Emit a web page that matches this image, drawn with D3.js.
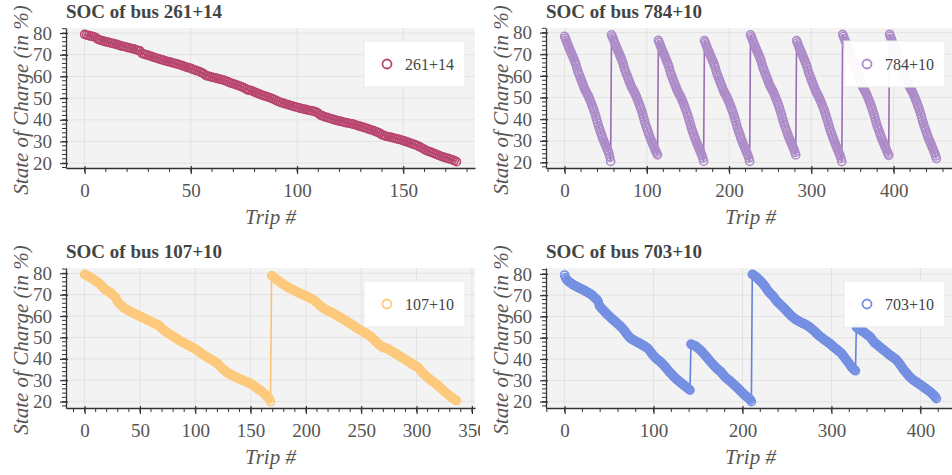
<!DOCTYPE html>
<html><head><meta charset="utf-8">
<script src="https://cdn.jsdelivr.net/npm/d3@7"></script>
<style>body{margin:0;background:#fff}svg{display:block}</style>
</head><body>
<svg id="c" width="952" height="475"></svg>
<script>
// ---------- DATA ----------
const titles = ["SOC of bus 261+14","SOC of bus 784+10","SOC of bus 107+10","SOC of bus 703+10"];
const busLabels = ["261+14","784+10","107+10","703+10"];
const yTicks = [20,30,40,50,60,70,80];
const xTicks261 = [0,50,100,150];
const xTicks784 = [0,100,200,300,400];
const xTicks107 = [0,50,100,150,200,250,300,350];
const xTicks703 = [0,100,200,300,400];

const soc261 = [
79.4,79.1,78.8,78.6,78.4,78.1,77.3,76.9,76.6,76.3,
76.0,75.8,75.5,75.3,75.0,74.8,74.5,74.1,73.9,73.7,
73.4,73.2,72.9,72.7,72.4,72.1,71.8,70.6,70.3,70.0,
69.7,69.4,69.0,68.7,68.4,68.1,67.8,67.5,67.2,66.9,
66.7,66.4,66.1,65.9,65.6,65.3,65.0,64.6,64.3,64.0,
63.7,63.3,62.9,62.6,62.3,61.8,61.3,60.5,60.2,59.9,
59.7,59.4,59.2,58.9,58.7,58.4,58.1,57.7,57.3,56.9,
56.6,56.3,55.9,55.6,55.2,54.8,54.2,53.7,53.6,53.2,
52.8,52.4,52.0,51.6,51.2,50.9,50.6,50.3,49.9,49.5,
49.0,48.5,48.1,47.8,47.5,47.2,46.9,46.6,46.3,46.0,
45.8,45.5,45.2,45.0,44.8,44.5,44.3,44.1,43.9,43.6,
43.0,42.2,41.8,41.4,41.1,40.8,40.5,40.2,39.9,39.6,
39.4,39.2,38.9,38.7,38.5,38.3,38.1,37.8,37.5,37.2,
36.9,36.6,36.3,36.0,35.6,35.3,35.0,34.6,34.2,33.8,
33.1,32.7,32.4,32.2,32.0,31.7,31.5,31.2,31.0,30.7,
30.4,30.1,29.7,29.4,29.0,28.7,28.4,27.9,27.4,26.9,
26.3,25.8,25.4,25.1,24.7,24.3,23.9,23.5,23.1,22.8,
22.5,22.2,21.9,21.6,21.2,20.7];

const soc784_day1 = [78.3,77.4,76.4,75.4,74.4,73.4,72.5,71.6,70.7,69.8,68.9,68.0,67.1,66.1,65.1,63.6,62.3,61.3,60.3,59.3,58.3,57.3,56.3,55.3,54.3,53.5,52.8,52.1,51.4,50.6,49.7,48.8,47.8,46.8,45.8,44.8,43.7,42.5,41.2,39.9,38.5,37.2,36.0,34.9,33.8,32.7,31.6,30.6,29.6,28.7,27.8,26.9,26.0,25.1,24.1,22.5,20.5];
const soc784_day2 = [79.0,78.1,77.2,76.2,75.2,74.2,73.3,72.4,71.5,70.6,69.7,68.8,67.9,66.9,65.9,64.4,63.1,62.1,61.1,60.1,59.1,58.1,57.1,56.1,55.2,54.4,53.7,53.0,52.3,51.5,50.6,49.7,48.7,47.7,46.7,45.7,44.6,43.4,42.1,40.8,39.4,38.1,36.9,35.8,34.7,33.6,32.5,31.5,30.5,29.6,28.7,27.8,26.9,26.0,25.1,24.3,23.5];
const soc784_day3 = [76.4,75.5,74.5,73.5,72.5,71.6,70.7,69.8,68.9,68.0,67.0,66.1,65.1,64.0,62.5,61.2,60.2,59.2,58.2,57.2,56.2,55.2,54.2,53.3,52.5,51.8,51.1,50.4,49.6,48.7,47.8,46.8,45.8,44.8,43.7,42.6,41.4,40.1,38.8,37.5,36.2,35.0,33.9,32.8,31.7,30.7,29.7,28.7,27.8,26.9,26.0,25.1,24.2,23.2,22.0,20.6];
const soc784_day4 = [76.3,75.4,74.4,73.4,72.4,71.5,70.6,69.7,68.8,67.9,67.0,66.1,65.1,64.1,62.6,61.3,60.3,59.3,58.3,57.3,56.3,55.3,54.3,53.3,52.5,51.8,51.1,50.4,49.6,48.7,47.8,46.8,45.8,44.8,43.8,42.7,41.5,40.2,38.9,37.5,36.2,35.0,33.9,32.8,31.7,30.6,29.6,28.6,27.7,26.8,25.9,25.0,24.1,23.2,22.0,20.5];
const soc784_day5 = [79.0,78.1,77.1,76.1,75.1,74.2,73.3,72.4,71.5,70.6,69.7,68.8,67.8,66.8,65.3,64.0,63.0,62.0,61.0,60.0,59.0,58.0,57.0,56.0,55.2,54.5,53.8,53.1,52.3,51.4,50.5,49.5,48.5,47.5,46.5,45.4,44.2,42.9,41.6,40.2,38.9,37.7,36.6,35.5,34.4,33.3,32.3,31.3,30.4,29.5,28.6,27.7,26.8,25.9,24.7,23.5];
const soc784_day6 = [76.3,75.3,74.3,73.3,72.4,71.5,70.6,69.7,68.8,67.9,67.0,66.0,65.0,64.0,62.5,61.2,60.2,59.2,58.2,57.2,56.2,55.2,54.2,53.3,52.5,51.8,51.1,50.3,49.5,48.6,47.7,46.7,45.7,44.7,43.7,42.6,41.4,40.1,38.8,37.5,36.2,35.0,33.9,32.8,31.7,30.7,29.7,28.7,27.7,26.8,25.9,25.0,24.1,23.1,21.9,20.4];
const soc784_day7 = [79.2,78.3,77.3,76.3,75.3,74.4,73.5,72.5,71.6,70.7,69.8,68.9,68.0,67.0,66.0,64.5,63.2,62.2,61.2,60.2,59.2,58.2,57.2,56.2,55.3,54.5,53.8,53.1,52.4,51.6,50.7,49.8,48.8,47.8,46.8,45.8,44.7,43.5,42.2,40.9,39.5,38.2,37.0,35.9,34.8,33.7,32.6,31.6,30.6,29.7,28.8,27.9,27.0,26.1,25.1,24.2,23.3];
const soc784_day8 = [79.2,78.3,77.3,76.3,75.3,74.4,73.5,72.5,71.6,70.7,69.8,68.9,68.0,67.0,66.0,64.5,63.2,62.2,61.2,60.2,59.2,58.2,57.2,56.2,55.3,54.5,53.8,53.1,52.4,51.6,50.7,49.8,48.8,47.8,46.8,45.8,44.7,43.5,42.2,40.9,39.5,38.2,37.0,35.9,34.8,33.7,32.6,31.6,30.6,29.7,28.8,27.9,27.0,26.1,25.1,24.2,23.0,21.8];
const soc784 = [].concat(soc784_day1,soc784_day2,soc784_day3,soc784_day4,soc784_day5,soc784_day6,soc784_day7,soc784_day8);

const soc107_run1 = [
79.5,79.3,79.0,78.7,78.4,78.1,77.9,77.6,77.2,76.8,
76.4,76.0,75.7,75.3,74.8,74.3,73.8,73.3,72.7,72.3,
71.9,71.6,71.3,70.9,70.6,70.1,69.6,69.2,68.7,67.5,
66.6,66.1,65.6,65.1,64.6,64.1,63.7,63.4,63.1,62.8,
62.5,62.2,62.0,61.7,61.4,61.2,60.9,60.7,60.4,60.2,
59.9,59.7,59.4,59.2,58.9,58.7,58.4,58.1,57.9,57.6,
57.4,57.1,56.9,56.6,56.4,56.2,55.9,55.7,55.2,54.6,
54.1,53.7,53.3,52.9,52.5,52.1,51.8,51.5,51.2,50.8,
50.5,50.2,49.9,49.5,49.2,48.9,48.5,48.2,47.9,47.6,
47.4,47.1,46.8,46.6,46.3,46.0,45.7,45.4,45.1,44.9,
44.7,44.3,43.9,43.5,43.2,42.8,42.4,42.0,41.7,41.3,
41.0,40.7,40.4,40.1,39.8,39.5,39.2,38.9,38.7,38.3,
37.8,37.3,36.8,36.3,35.7,35.2,34.8,34.3,33.9,33.5,
33.2,32.9,32.7,32.4,32.2,31.9,31.6,31.4,31.1,30.9,
30.7,30.4,30.2,30.0,29.8,29.5,29.3,29.0,28.8,28.6,
28.5,28.1,27.8,27.4,27.0,26.6,26.3,25.9,25.5,25.2,
24.8,24.4,23.9,23.4,22.9,22.4,21.9,21.3,20.0];
const soc107_run2 = [
78.9,78.5,78.1,77.7,77.3,76.9,76.5,76.2,75.8,75.5,
75.1,74.8,74.4,74.1,73.7,73.4,73.1,72.8,72.6,72.3,
72.1,71.8,71.5,71.3,71.0,70.8,70.5,70.3,70.0,69.8,
69.6,69.5,69.2,68.9,68.6,68.4,68.1,67.8,67.5,67.2,
66.7,66.2,65.7,65.2,64.8,64.4,64.0,63.6,63.3,63.0,
62.7,62.4,62.2,62.0,61.8,61.5,61.2,60.9,60.6,60.3,
60.0,59.7,59.4,59.1,58.8,58.5,58.2,57.8,57.5,57.1,
56.8,56.5,56.2,55.9,55.5,55.2,54.9,54.5,54.1,53.7,
53.5,53.3,53.0,52.7,52.3,52.0,51.7,51.3,51.0,50.6,
50.2,49.7,49.2,48.7,48.2,47.7,47.2,46.8,46.3,45.9,
45.6,45.4,45.2,45.0,44.9,44.7,44.4,44.0,43.7,43.4,
43.1,42.8,42.5,42.2,41.9,41.6,41.2,40.9,40.5,40.2,
39.9,39.6,39.3,39.0,38.6,38.3,38.0,37.6,37.3,36.9,
36.7,36.5,36.1,35.6,35.0,34.4,33.6,33.2,32.7,32.2,
31.8,31.3,30.9,30.5,30.0,29.7,29.3,28.9,28.5,28.1,
27.7,27.2,26.8,26.3,25.8,25.3,24.8,24.4,23.9,23.5,
23.1,22.7,22.3,21.9,21.5,21.2,20.9,20.5];
const soc107 = [].concat(soc107_run1, soc107_run2);

const soc703_run1 = [
79.5,78.3,77.6,77.0,76.6,76.3,76.0,75.7,75.4,75.1,
74.8,74.6,74.4,74.2,73.9,73.7,73.5,73.3,73.1,72.9,
72.7,72.5,72.3,72.1,71.8,71.6,71.3,71.1,70.8,70.6,
70.3,70.0,69.6,69.2,68.8,68.4,68.0,67.6,66.8,65.2,
64.6,64.1,63.6,63.2,62.8,62.3,61.9,61.4,61.0,60.6,
60.2,59.8,59.4,59.0,58.7,58.3,58.0,57.6,57.2,56.8,
56.5,56.1,55.7,55.3,54.9,54.5,54.0,53.5,52.9,52.3,
51.8,51.2,50.7,50.2,49.8,49.5,49.3,49.0,48.8,48.5,
48.3,48.1,47.9,47.7,47.4,47.2,47.0,46.7,46.5,46.2,
46.0,45.7,45.4,45.1,44.8,44.3,43.7,43.2,42.6,42.1,
41.6,41.1,40.7,40.3,39.9,39.6,39.3,39.0,38.6,38.2,
37.8,37.4,36.9,36.4,35.9,35.4,34.9,34.4,33.9,33.4,
33.0,32.6,32.1,31.7,31.3,30.9,30.5,30.2,29.8,29.5,
29.1,28.8,28.4,28.1,27.8,27.4,27.1,26.8,26.4,26.1,
25.8,25.4];
const soc703_run2 = [
47.0,46.8,46.6,46.5,46.3,46.1,45.8,45.5,45.1,44.8,
44.4,44.0,43.6,43.2,42.7,42.2,41.8,41.3,40.8,40.3,
39.7,39.3,38.8,38.3,37.9,37.4,36.9,36.5,36.1,35.6,
35.3,34.9,34.6,34.3,33.8,33.3,32.8,32.3,31.8,31.3,
31.0,30.7,30.4,30.0,29.7,29.3,28.9,28.5,28.1,27.7,
27.4,27.0,26.6,26.2,25.8,25.4,24.9,24.5,24.1,23.7,
23.3,22.9,22.6,22.2,21.9,21.6,21.2,20.8,20.0];
const soc703_run3 = [
79.8,79.6,79.3,79.0,78.7,78.3,77.9,77.5,77.1,76.7,
76.3,75.8,75.3,74.8,74.3,73.8,73.0,72.4,71.9,71.4,
70.9,70.5,70.2,69.7,69.2,68.6,68.0,67.5,67.0,66.6,
66.2,65.8,65.4,65.0,64.6,64.2,63.8,63.4,62.9,62.4,
62.0,61.6,61.1,60.6,60.2,59.9,59.5,59.2,58.9,58.6,
58.3,58.1,57.9,57.6,57.4,57.2,57.0,56.8,56.6,56.4,
56.2,55.9,55.7,55.4,55.1,54.8,54.5,54.1,53.8,53.4,
53.1,52.6,52.2,51.8,51.4,51.1,50.7,50.4,50.1,49.7,
49.4,49.1,48.8,48.5,48.2,47.9,47.6,47.3,47.0,46.6,
46.2,45.9,45.5,45.1,44.8,44.5,44.2,43.8,43.5,43.1,
42.8,42.3,41.7,41.1,40.6,40.0,39.5,38.9,38.4,37.8,
37.2,36.6,36.1,35.6,35.2,34.9,34.5];
const soc703_run4 = [
54.9,54.7,54.4,54.1,53.8,53.6,53.3,53.1,52.8,52.5,
52.2,51.8,51.5,51.2,50.9,50.6,50.2,49.6,49.0,48.4,
47.9,47.5,47.2,46.9,46.6,46.2,45.8,45.5,45.1,44.8,
44.5,44.2,43.9,43.5,43.1,42.8,42.4,42.1,41.8,41.5,
41.2,40.9,40.6,40.3,40.0,39.6,39.2,38.7,38.1,37.5,
36.9,36.3,35.7,35.1,34.6,34.1,33.6,33.1,32.6,32.1,
31.7,31.3,30.9,30.5,30.2,29.9,29.6,29.3,29.0,28.8,
28.5,28.2,27.9,27.6,27.3,27.0,26.7,26.4,26.1,25.8,
25.5,25.2,24.9,24.6,24.2,23.8,23.4,23.0,22.6,22.1,21.4];
const soc703 = [].concat(soc703_run1, soc703_run2, soc703_run3, soc703_run4);

// ---------- CONFIG ----------
const seriesList = [soc261, soc784, soc107, soc703];
const xTickList = [xTicks261, xTicks784, xTicks107, xTicks703];
const lineColors = ["#b3416b", "#9a6db5", "#fcc273", "#6482de"];
const pointColors = ["#b8466f", "#ad8cc8", "#fdc97c", "#7590e2"];

const PW = 480, PH = 240;
const FR = {l: 66, t: 28, w: 409, h: 140};
const serif = "'Liberation Serif', 'Times New Roman', serif";

const svg = d3.select("#c");
const defs = svg.append("defs");

seriesList.forEach((soc, i) => {
  const col = i % 2, row = Math.floor(i / 2);
  defs.append("clipPath").attr("id", "pc" + i)
    .append("rect").attr("x", 0).attr("y", 0).attr("width", PW).attr("height", PH);
  defs.append("clipPath").attr("id", "fc" + i)
    .append("rect").attr("x", FR.l).attr("y", FR.t).attr("width", FR.w).attr("height", FR.h);

  const g = svg.append("g")
    .attr("transform", `translate(${col * PW},${row * PH})`)
    .attr("clip-path", `url(#pc${i})`);

  const trips = soc.map((_, j) => j);
  const xPad = (trips.length - 1) * 0.05;
  const x = d3.scaleLinear().domain([-xPad, trips.length - 1 + xPad]).range([FR.l, FR.l + FR.w]);
  const [ymin, ymax] = d3.extent(soc);
  const yPad = (ymax - ymin) * 0.05;
  const y = d3.scaleLinear().domain([ymin - yPad, ymax + yPad]).range([FR.t + FR.h, FR.t]);

  g.append("rect").attr("x", FR.l).attr("y", FR.t).attr("width", FR.w).attr("height", FR.h)
    .attr("fill", "#f3f3f3");

  const xt = xTickList[i];
  const xStep = xt[1] - xt[0];
  g.append("g").selectAll("line").data(xt.filter(v => x(v) <= FR.l + FR.w)).join("line")
    .attr("x1", d => x(d)).attr("x2", d => x(d)).attr("y1", FR.t).attr("y2", FR.t + FR.h)
    .attr("stroke", "#e3e3e3").attr("stroke-width", 1);
  g.append("g").selectAll("line").data(yTicks).join("line")
    .attr("x1", FR.l).attr("x2", FR.l + FR.w).attr("y1", d => y(d)).attr("y2", d => y(d))
    .attr("stroke", "#e3e3e3").attr("stroke-width", 1);

  const dg = g.append("g").attr("clip-path", `url(#fc${i})`);
  const line = d3.line().x((d, j) => x(trips[j])).y(d => y(d));
  dg.append("path").datum(soc).attr("d", line).attr("fill", "none")
    .attr("stroke", lineColors[i]).attr("stroke-width", 1.6);
  dg.append("g").selectAll("circle").data(soc).join("circle")
    .attr("cx", (d, j) => x(trips[j])).attr("cy", d => y(d)).attr("r", 4)
    .attr("fill", "none").attr("stroke", pointColors[i]).attr("stroke-width", 1.6);

  const lg = g.append("g").attr("transform", `translate(${FR.l + FR.w - 10 - 101},${FR.t + 13})`);
  lg.append("rect").attr("width", 101).attr("height", 46).attr("fill", "#fff").attr("fill-opacity", 0.95)
    .attr("stroke", "#ececec").attr("stroke-width", 1);
  lg.append("circle").attr("cx", 23).attr("cy", 23).attr("r", 4.5)
    .attr("fill", "none").attr("stroke", pointColors[i]).attr("stroke-width", 1.8);
  lg.append("text").attr("x", 41).attr("y", 23).attr("dy", "0.35em")
    .attr("font-family", serif).attr("font-size", 16).attr("fill", "#444").text(busLabels[i]);

  const axisColor = "#333";
  const xa = g.append("g").attr("transform", `translate(0,${FR.t + FR.h})`)
    .call(d3.axisBottom(x).tickValues(xt).tickSize(6).tickSizeOuter(0).tickPadding(10));
  xa.select(".domain").attr("stroke", axisColor).attr("stroke-width", 1.3);
  xa.selectAll(".tick line").attr("y1", -2).attr("stroke", axisColor).attr("stroke-width", 1.2);
  xa.selectAll(".tick text").attr("font-family", serif).attr("font-size", 19).attr("fill", "#555");
  const xDom = x.domain();
  const xMinor = d3.range(Math.ceil(xDom[0] / (xStep / 5)) * (xStep / 5), xDom[1], xStep / 5);
  xa.append("g").selectAll("line").data(xMinor).join("line")
    .attr("x1", d => x(d)).attr("x2", d => x(d)).attr("y1", 0).attr("y2", 4)
    .attr("stroke", axisColor).attr("stroke-width", 1);

  const ya = g.append("g").attr("transform", `translate(${FR.l},0)`)
    .call(d3.axisLeft(y).tickValues(yTicks).tickSize(6).tickSizeOuter(0).tickPadding(8));
  ya.select(".domain").attr("stroke", axisColor).attr("stroke-width", 1.3);
  ya.selectAll(".tick line").attr("x1", 2).attr("stroke", axisColor).attr("stroke-width", 1.2);
  ya.selectAll(".tick text").attr("font-family", serif).attr("font-size", 19).attr("fill", "#555");
  const yDom = y.domain();
  const yMinor = d3.range(Math.ceil(yDom[0] / 2) * 2, yDom[1], 2);
  ya.append("g").selectAll("line").data(yMinor).join("line")
    .attr("y1", d => y(d)).attr("y2", d => y(d)).attr("x1", 0).attr("x2", -4)
    .attr("stroke", axisColor).attr("stroke-width", 1);

  g.append("text").attr("x", FR.l).attr("y", 18)
    .attr("font-family", serif).attr("font-weight", "bold").attr("font-size", 19)
    .attr("fill", "#444").text(titles[i]);

  g.append("text").attr("x", FR.l + FR.w / 2).attr("y", 224).attr("text-anchor", "middle")
    .attr("font-family", serif).attr("font-style", "italic").attr("font-size", 21)
    .attr("fill", "#555").text("Trip #");
  g.append("text").attr("transform", `translate(28,${FR.t + FR.h / 2 + 2}) rotate(-90)`)
    .attr("text-anchor", "middle")
    .attr("font-family", serif).attr("font-style", "italic").attr("font-size", 21)
    .attr("fill", "#555").text("State of Charge (in %)");
});
</script>
</body></html>
